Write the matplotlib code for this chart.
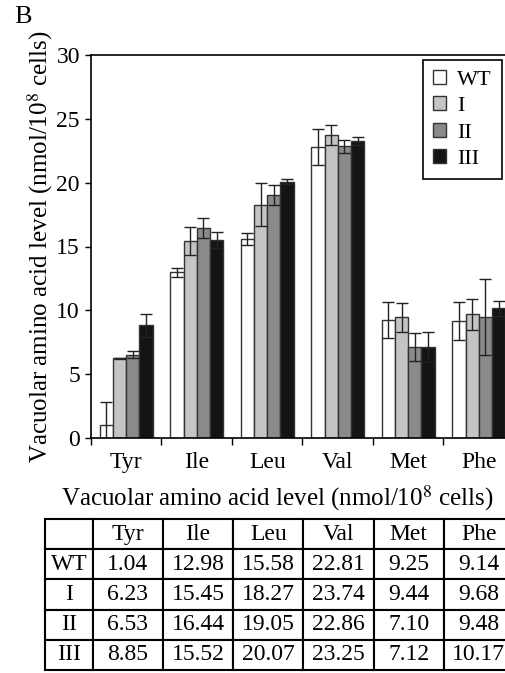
import numpy as np
import matplotlib
matplotlib.use("Agg")
from matplotlib import pyplot as plt

plt.rcParams['font.family'] = ['Liberation Serif', 'DejaVu Serif']
plt.rcParams['mathtext.fontset'] = 'stix'

acids = ['Tyr', 'Ile', 'Leu', 'Val', 'Met', 'Phe']
strains = ['WT', 'I', 'II', 'III']
wt = [1.04, 12.98, 15.58, 22.81, 9.25, 9.14]
s1 = [6.23, 15.45, 18.27, 23.74, 9.44, 9.68]
s2 = [6.53, 16.44, 19.05, 22.86, 7.10, 9.48]
s3 = [8.85, 15.52, 20.07, 23.25, 7.12, 10.17]
# error bars
wt_err = [1.8, 0.35, 0.5, 1.4, 1.4, 1.5]
s1_err = [0.05, 1.1, 1.7, 0.8, 1.1, 1.2]
s2_err = [0.3, 0.8, 0.8, 0.5, 1.1, 3.0]
s3_err = [0.9, 0.6, 0.2, 0.3, 1.2, 0.6]
colors = ['white', '#c4c4c4', '#8a8a8a', '#141414']

values = [wt, s1, s2, s3]
errors = [wt_err, s1_err, s2_err, s3_err]

fig = plt.figure(figsize=(5.06, 6.73), dpi=100)
ax = fig.add_axes([91/506, 1-438/673, 423/506, 383/673])

x = np.arange(len(acids))
w = 0.75/4
for k in range(4):
    ax.bar(x + (k-1.5)*w, values[k], w, yerr=errors[k], color=colors[k],
           edgecolor='#333333', linewidth=1.0, label=strains[k],
           error_kw=dict(ecolor='#222222', elinewidth=1.0, capsize=4.5, capthick=1.0))

ax.set_xlim(-0.5, 5.5)
ax.set_ylim(0, 30)
ax.set_yticks(range(0, 31, 5))
ax.set_xticks(np.arange(-0.5, 6, 1))
ax.set_xticklabels([])
ax.set_xticks(x, minor=True)
ax.set_xticklabels(acids, minor=True)
ax.tick_params(axis='x', which='minor', length=0, labelsize=17, pad=10)
ax.tick_params(axis='x', which='major', length=5, width=1, direction='out')
ax.tick_params(axis='y', length=4, width=1, direction='out', labelsize=17, pad=4)
for s in ax.spines.values():
    s.set_linewidth(1.2)
ax.set_ylabel('Vacuolar amino acid level (nmol/10$^{8}$ cells)', fontsize=18)
ax.yaxis.set_label_coords(-0.085, 0.5)

leg = ax.legend(loc='upper right', bbox_to_anchor=(502/506, 1-60/673),
                bbox_transform=fig.transFigure, borderaxespad=0, fancybox=False,
                edgecolor='black', framealpha=1, fontsize=16, handlelength=0.6,
                handleheight=0.6, handletextpad=0.5, labelspacing=0.29,
                borderpad=0.45)
leg.get_frame().set_linewidth(1.2)

fig.text(23/506, 1-17/673, 'B', fontsize=19, ha='center', va='center')

# data table
fig.text(277/506, 1-498/673, 'Vacuolar amino acid level (nmol/10$^{8}$ cells)',
         fontsize=18, ha='center', va='center')
tax = fig.add_axes([45/506, 1-670/673, 469/506, 151/673])
tax.axis('off')
cells = [[''] + acids]
for name, vals in zip(strains, values):
    cells.append([name] + ['%.2f' % v for v in vals])
tbl = tax.table(cellText=cells, cellLoc='center', bbox=[0, 0, 1, 1],
                colWidths=[48/469] + [70.5/469]*6)
tbl.auto_set_font_size(False)
for (r, c), cell in tbl.get_celld().items():
    cell.set_linewidth(1.5)
    cell.set_edgecolor('black')
    cell.get_text().set_fontsize(17)

fig.savefig('out.png', dpi=100)
